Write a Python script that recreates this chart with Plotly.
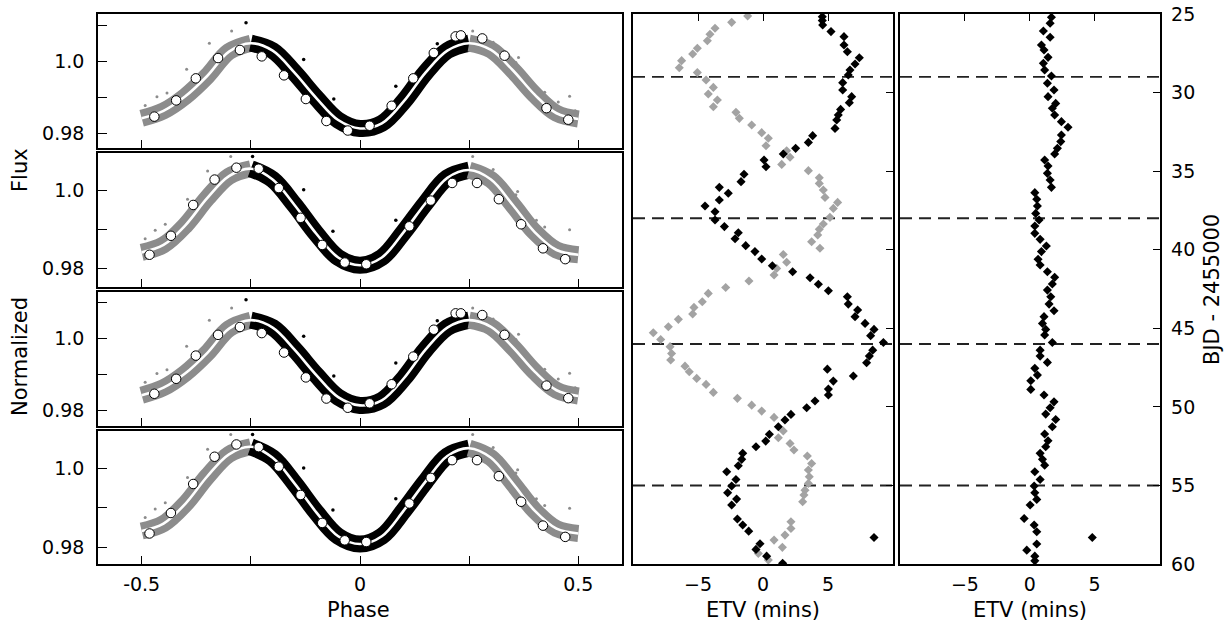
import plotly.graph_objects as go

# ---------------- light curves (phase-folded) ----------------
band_phase = [-0.5, -0.45, -0.4, -0.35, -0.3, -0.25, -0.2, -0.15, -0.1, -0.05, 0.0,
              0.05, 0.1, 0.15, 0.2, 0.25, 0.3, 0.35, 0.4, 0.45, 0.5]
model_p1 = [0.98422, 0.98628, 0.99031, 0.99593, 1.00270, 1.00502, 1.00296, 0.99687, 0.98984, 0.98375, 0.98141,
            0.98281, 0.98890, 0.99687, 1.00296, 1.00502, 1.00315, 0.99753, 0.99078, 0.98562, 0.98403]
model_p2 = [0.98409, 0.98600, 0.99104, 0.99800, 1.00365, 1.00557, 1.00278, 0.99626, 0.98887, 0.98278, 0.98078,
            0.98278, 0.98930, 0.99670, 1.00322, 1.00522, 1.00278, 0.99626, 0.98930, 0.98470, 0.98348]
model_p3 = [0.98420, 0.98630, 0.99030, 0.99590, 1.00265, 1.00500, 1.00295, 0.99685, 0.98980, 0.98370, 0.98140,
            0.98280, 0.98885, 0.99685, 1.00295, 1.00500, 1.00315, 0.99750, 0.99075, 0.98560, 0.98400]
model_p4 = [0.98409, 0.98600, 0.99104, 0.99800, 1.00365, 1.00557, 1.00278, 0.99626, 0.98887, 0.98278, 0.98078,
            0.98278, 0.98930, 0.99670, 1.00322, 1.00522, 1.00278, 0.99626, 0.98930, 0.98470, 0.98348]

bin_phase_a = [-0.471, -0.421, -0.376, -0.325, -0.275, -0.225, -0.174, -0.124, -0.077, -0.028,
               0.022, 0.0725, 0.122, 0.169, 0.219, 0.231, 0.280, 0.331, 0.427, 0.477]
bin_phase_b = [-0.482, -0.433, -0.382, -0.333, -0.283, -0.232, -0.186, -0.136, -0.0865, -0.035,
               0.0144, 0.113, 0.162, 0.211, 0.268, 0.318, 0.369, 0.419, 0.470]
bin_flux_p1 = [0.98469, 0.98918, 0.99528, 1.00090, 1.00315, 1.00137, 0.99612, 0.98956, 0.98347, 0.98084,
               0.98216, 0.98769, 0.99528, 1.00231, 1.00690, 1.00718, 1.00634, 1.00156, 0.98703, 0.98384]
bin_flux_p2 = [0.98348, 0.98835, 0.99626, 1.00278, 1.00583, 1.00557, 1.00061, 0.99296, 0.98600, 0.98148,
               0.98104, 0.99078, 0.99739, 1.00191, 1.00191, 0.99774, 0.99130, 0.98513, 0.98235]
bin_flux_p3 = [0.98462, 0.98877, 0.99519, 1.00094, 1.00311, 1.00142, 0.99604, 0.98915, 0.98330, 0.98075,
               0.98198, 0.98726, 0.99491, 1.00236, 1.00689, 1.00689, 1.00642, 1.00094, 0.98689, 0.98340]
bin_flux_p4 = [0.98348, 0.98870, 0.99609, 1.00304, 1.00617, 1.00548, 1.00052, 0.99330, 0.98617, 0.98174,
               0.98130, 0.99113, 0.99765, 1.00217, 1.00217, 0.99809, 0.99157, 0.98548, 0.98261]

out_black_phase_a = [-0.261, -0.129, -0.060, 0.082, 0.177]
out_black_flux_a = [1.01065, 1.00053, 0.98956, 0.99312, 1.00484]
out_gray_phase_a = [-0.492, -0.465, -0.442, -0.397, -0.345, -0.294, 0.258, 0.305, 0.363, 0.357, 0.423, 0.454, 0.480, 0.493]
out_gray_flux_a = [0.98778, 0.99022, 0.99125, 0.99781, 1.0050, 1.0084, 1.0084, 1.00531, 1.00109, 0.99968, 0.99143, 0.98872, 0.99031, 0.98628]
out_black_phase_b = [-0.246, -0.129, -0.062, 0.082]
out_black_flux_b = [1.0087, 1.00017, 0.98948, 0.99235]
out_gray_phase_b = [-0.492, -0.469, -0.446, -0.395, -0.349, -0.296, 0.258, 0.305, 0.361, 0.357, 0.404, 0.423, 0.480]
out_gray_flux_b = [0.98757, 0.98974, 0.99130, 0.99774, 1.00496, 1.0087, 1.0087, 1.00539, 0.99974, 0.99887, 0.99235, 0.99061, 0.98991]

flux_ranges = [[0.9760, 1.0131], [0.9752, 1.0096], [0.9757, 1.0128], [0.9757, 1.0096]]
flux_tickvals = [0.98, 0.99, 1.00, 1.01]
flux_ticktext = ["0.98", "", "1.0", ""]
phase_tickvals = [-0.5, -0.25, 0.0, 0.25, 0.5]
phase_ticktext = ["-0.5", "", "0", "", "0.5"]

# ---------------- eclipse timing variations ----------------
mid_black_bjd = [25.17, 25.42, 25.70, 26.12, 26.44, 26.97, 27.40, 27.78, 28.18, 28.56, 28.88, 29.37, 29.84, 30.26, 30.64,
                 31.07, 31.43, 31.75, 32.28, 32.74, 33.17, 33.55, 33.91, 34.29, 34.72, 35.20, 35.67, 36.03, 36.41, 36.84,
                 37.22, 37.58, 38.11, 38.53, 38.92, 39.30, 39.74, 40.12, 40.59, 41.02, 41.40, 41.78, 42.20, 42.61, 42.99,
                 43.46, 43.84, 44.26, 44.69, 45.07, 45.47, 45.90, 46.39, 46.77, 47.19, 47.60, 48.04, 48.36, 48.87, 49.25,
                 49.63, 50.06, 50.48, 50.84, 51.27, 51.75, 52.18, 52.54, 52.96, 53.34, 53.75, 54.13, 54.62, 55.04, 55.47,
                 55.87, 56.25, 57.14, 57.52, 57.91, 58.31, 58.71, 59.07, 59.50, 59.96]
mid_black_etv = [4.56, 4.56, 4.59, 5.23, 6.23, 6.23, 6.49, 7.41, 7.08, 6.69, 6.56, 6.13, 6.13, 6.82, 6.64,
                 5.97, 5.79, 5.67, 5.54, 3.82, 3.49, 2.51, 1.56, 0.08, 0.23, -1.46, -1.69, -3.36, -2.67, -3.36,
                 -4.46, -3.69, -3.69, -2.97, -1.90, -2.15, -1.33, -0.62, -0.10, 0.72, 2.28, 3.62, 4.26, 5.03, 6.49,
                 6.56, 7.28, 7.08, 7.85, 8.54, 8.28, 9.26, 8.44, 8.18, 7.97, 4.95, 6.95, 5.41, 5.03, 5.03,
                 4.00, 3.36, 2.15, 1.69, 1.18, 0.49, 0.21, -0.54, -1.56, -1.64, -1.90, -2.79, -2.08, -2.41, -2.72,
                 -2.03, -2.41, -1.97, -1.56, -1.10, 8.54, -0.23, -0.54, 0.28, 1.51]
mid_gray_bjd = [25.13, 25.53, 25.91, 26.29, 26.70, 27.18, 27.55, 27.97, 28.42, 28.73, 29.20, 29.67, 30.09, 30.47, 30.90,
                31.26, 31.64, 32.06, 32.55, 32.91, 33.38, 33.70, 34.12, 34.57, 34.97, 35.42, 35.78, 36.20, 36.67, 36.99,
                37.37, 37.94, 38.36, 38.70, 39.06, 39.49, 39.91, 40.30, 40.80, 41.19, 41.61, 41.99, 42.40, 42.78, 43.31,
                43.67, 44.09, 44.43, 44.90, 45.28, 45.71, 46.17, 46.60, 47.02, 47.41, 47.77, 48.19, 48.57, 49.08, 49.46,
                49.89, 50.27, 50.67, 51.54, 51.97, 52.33, 52.75, 53.13, 53.60, 54.02, 54.45, 54.87, 55.30, 55.61, 56.04,
                57.31, 57.74, 58.16, 58.48, 58.94, 59.33, 59.75]
mid_gray_etv = [-1.18, -2.41, -3.69, -4.08, -4.28, -5.05, -5.41, -6.26, -6.44, -5.05, -4.38, -3.82, -4.21, -3.51, -3.82,
                -2.08, -1.82, -0.87, -0.10, 0.41, 0.23, 1.82, 2.08, 1.44, 3.49, 4.33, 4.33, 4.64, 4.77, 5.74,
                5.41, 5.15, 4.64, 4.33, 4.21, 3.74, 4.38, 1.56, 1.82, 1.05, 0.85, -1.08, -2.87, -4.21, -4.67,
                -5.31, -5.41, -6.51, -7.28, -8.44, -7.87, -7.15, -7.03, -7.10, -6.00, -5.67, -5.10, -4.38, -3.82, -1.97,
                -0.87, -0.10, 0.85, 1.56, 1.18, 2.08, 2.38, 3.41, 3.74, 3.49, 3.56, 3.49, 3.23, 3.15, 3.05,
                2.15, 2.15, 1.69, 0.85, 1.49, -0.36, 0.41]
right_bjd = [25.21, 25.59, 26.08, 26.48, 26.97, 27.29, 27.76, 28.14, 28.56, 28.95, 29.41, 29.84, 30.26, 30.69, 31.00,
             31.43, 31.85, 32.21, 32.70, 33.12, 33.55, 33.91, 34.29, 34.67, 35.14, 35.56, 36.03, 36.37, 36.79, 37.22,
             37.69, 38.11, 38.49, 38.96, 39.34, 39.76, 40.12, 40.61, 40.97, 41.40, 41.76, 42.18, 42.57, 42.99, 43.46,
             43.88, 44.26, 44.69, 45.07, 45.43, 45.90, 46.39, 46.77, 47.17, 47.55, 47.98, 48.34, 48.89, 49.25, 49.68,
             50.06, 50.46, 50.80, 51.27, 51.73, 52.16, 52.54, 52.96, 53.34, 53.71, 54.13, 54.62, 55.04, 55.47, 55.89,
             56.25, 57.10, 57.52, 57.95, 58.31, 58.73, 59.12, 59.50, 59.80]
right_etv = [1.67, 1.57, 1.05, 1.57, 0.90, 1.10, 1.41, 1.05, 1.15, 1.67, 1.36, 1.87, 1.41, 2.00, 1.74,
             1.92, 2.44, 2.95, 2.44, 2.39, 2.13, 1.92, 1.15, 1.41, 1.36, 1.57, 1.67, 0.39, 0.54, 0.59,
             0.46, 0.72, 0.39, 0.39, 0.80, 1.28, 0.90, 0.64, 0.80, 1.36, 1.92, 1.74, 1.36, 1.62, 1.49,
             1.87, 1.10, 0.98, 1.23, 1.15, 1.74, 0.80, 0.80, 1.36, 0.39, 0.59, 0.08, 0.08, 1.10, 1.87,
             1.57, 1.23, 2.00, 1.74, 1.15, 1.41, 1.23, 0.80, 0.98, 1.15, 0.39, 0.80, 0.34, 0.39, 0.54,
             0.03, -0.43, 0.34, 0.54, 4.82, 0.54, -0.23, 0.39, 0.39]
segment_bjd = [29.0, 38.0, 46.0, 55.0]
etv_range = [-10, 10]
etv_tickvals = [-5, 0, 5]
etv_ticktext = ["\u22125", "0", "5"]
bjd_range = [60, 25]
bjd_tickvals = [25, 30, 35, 40, 45, 50, 55, 60]

assert len(mid_black_bjd) == len(mid_black_etv)
assert len(mid_gray_bjd) == len(mid_gray_etv)
assert len(right_bjd) == len(right_etv)

# ---------------- styling / layout ----------------
W, H = 1229, 623
FONT = "DejaVu Sans"
TICK_SIZE = 19
LABEL_SIZE = 21
GRAY_BAND = "#8c8c8c"
GRAY_ETV = "#a3a3a3"
BAND_W = 17


def px_to_paper_y(px):
    return 1 - px / H


left_x_dom = [98 / W, 622 / W]
panel_px = [(14, 148), (153, 287), (292, 426), (431, 564)]
mid_x_dom = [633 / W, 893 / W]
right_x_dom = [900 / W, 1159.5 / W]
etv_y_dom = [px_to_paper_y(564), px_to_paper_y(14)]

models = [model_p1, model_p2, model_p3, model_p4]
bin_phases = [bin_phase_a, bin_phase_b, bin_phase_a, bin_phase_b]
bin_fluxes = [bin_flux_p1, bin_flux_p2, bin_flux_p3, bin_flux_p4]
outs = [(out_black_phase_a, out_black_flux_a, out_gray_phase_a, out_gray_flux_a),
        (out_black_phase_b, out_black_flux_b, out_gray_phase_b, out_gray_flux_b),
        (out_black_phase_a, out_black_flux_a, out_gray_phase_a, out_gray_flux_a),
        (out_black_phase_b, out_black_flux_b, out_gray_phase_b, out_gray_flux_b)]

fig = go.Figure()
layout = dict(
    width=W, height=H, margin=dict(l=0, r=0, t=0, b=0),
    paper_bgcolor="white", plot_bgcolor="white", showlegend=False,
    font=dict(family=FONT, size=TICK_SIZE, color="black"),
)

common_axis = dict(showgrid=False, zeroline=False, showline=True, linecolor="black",
                   linewidth=1.6, mirror=True, tickcolor="black", tickwidth=1.2, automargin=False)

i_lo = band_phase.index(-0.25)
i_hi = band_phase.index(0.25)

for k in range(4):
    n = k + 1
    xa, ya = f"x{n}", f"y{n}"
    m = models[k]
    segs = [(band_phase[:i_lo + 1], m[:i_lo + 1], GRAY_BAND),
            (band_phase[i_lo:i_hi + 1], m[i_lo:i_hi + 1], "black"),
            (band_phase[i_hi:], m[i_hi:], GRAY_BAND)]
    for xs, ys, col in segs:
        fig.add_trace(go.Scatter(x=xs, y=ys, mode="lines", xaxis=xa, yaxis=ya, hoverinfo="skip",
                                 line=dict(color=col, width=BAND_W, shape="spline", smoothing=1.0)))
    bp, bf, gp, gf = outs[k]
    fig.add_trace(go.Scatter(x=gp, y=gf, mode="markers", xaxis=xa, yaxis=ya,
                             marker=dict(color=GRAY_BAND, size=3, line=dict(width=0))))
    fig.add_trace(go.Scatter(x=bp, y=bf, mode="markers", xaxis=xa, yaxis=ya,
                             marker=dict(color="black", size=3.5, line=dict(width=0))))
    fig.add_trace(go.Scatter(x=band_phase, y=m, mode="lines", xaxis=xa, yaxis=ya,
                             line=dict(color="white", width=2.6, shape="spline", smoothing=1.0)))
    fig.add_trace(go.Scatter(x=bin_phases[k], y=bin_fluxes[k], mode="markers", xaxis=xa, yaxis=ya,
                             marker=dict(symbol="circle", size=9.5, color="white",
                                         line=dict(color="black", width=1))))
    top, bot = panel_px[k]
    layout[f"xaxis{n}"] = dict(common_axis, domain=left_x_dom, range=[-0.6, 0.6], anchor=ya,
                               ticks="inside", ticklen=8, tickvals=phase_tickvals, ticktext=phase_ticktext,
                               showticklabels=(n == 4), ticklabelstandoff=2)
    layout[f"yaxis{n}"] = dict(common_axis, domain=[px_to_paper_y(bot), px_to_paper_y(top)],
                               range=flux_ranges[k], anchor=xa, ticks="inside", ticklen=9,
                               tickvals=flux_tickvals, ticktext=flux_ticktext, ticklabelstandoff=8)

# ETV panels
for n, xdom, show_y in [(5, mid_x_dom, False), (6, right_x_dom, True)]:
    xa, ya = f"x{n}", f"y{n}"
    for b in segment_bjd:
        fig.add_trace(go.Scatter(x=etv_range, y=[b, b], mode="lines", xaxis=xa, yaxis=ya, hoverinfo="skip",
                                 line=dict(color="#222222", width=1.9, dash="12px,7px")))
    layout[f"xaxis{n}"] = dict(common_axis, domain=xdom, range=etv_range, anchor=ya, ticks="",
                               tickvals=etv_tickvals, ticktext=etv_ticktext, ticklabelstandoff=2)
    layout[f"yaxis{n}"] = dict(common_axis, domain=etv_y_dom, range=bjd_range, anchor=xa, side="right",
                               ticks="inside", ticklen=7, tickvals=bjd_tickvals,
                               showticklabels=show_y, ticklabelstandoff=6)
    top_n = n + 2
    layout[f"xaxis{top_n}"] = dict(overlaying=xa, side="top", anchor=ya, range=etv_range, ticks="inside",
                                   ticklen=7, tickcolor="black", tickwidth=1.2, tickvals=etv_tickvals,
                                   showticklabels=False, showgrid=False, zeroline=False, showline=False,
                                   automargin=False)
    fig.add_trace(go.Scatter(x=[None], y=[None], mode="markers", xaxis=f"x{top_n}", yaxis=ya))

fig.add_trace(go.Scatter(x=mid_gray_etv, y=mid_gray_bjd, mode="markers", xaxis="x5", yaxis="y5",
                         marker=dict(symbol="diamond", size=7, color=GRAY_ETV, line=dict(width=0))))
fig.add_trace(go.Scatter(x=mid_black_etv, y=mid_black_bjd, mode="markers", xaxis="x5", yaxis="y5",
                         marker=dict(symbol="diamond", size=7, color="black", line=dict(width=0))))
fig.add_trace(go.Scatter(x=right_etv, y=right_bjd, mode="markers", xaxis="x6", yaxis="y6",
                         marker=dict(symbol="diamond", size=7, color="black", line=dict(width=0))))

lab = dict(xref="paper", yref="paper", showarrow=False, borderpad=0,
           font=dict(family=FONT, size=LABEL_SIZE, color="black"))
label_y = 0.0
layout["annotations"] = [
    dict(lab, text="Phase", x=358 / W, y=label_y, xanchor="center", yanchor="bottom"),
    dict(lab, text="ETV (mins)", x=763 / W, y=label_y, xanchor="center", yanchor="bottom"),
    dict(lab, text="ETV (mins)", x=1030 / W, y=label_y, xanchor="center", yanchor="bottom"),
    dict(lab, text="Normalized", x=20 / W, y=px_to_paper_y(357), textangle=-90, xanchor="center", yanchor="middle"),
    dict(lab, text="Flux", x=20 / W, y=px_to_paper_y(170), textangle=-90, xanchor="center", yanchor="middle"),
    dict(lab, text="BJD - 2455000", x=1212 / W, y=px_to_paper_y(290), textangle=-90, xanchor="center", yanchor="middle"),
]

fig.update_layout(**layout)
fig.write_html("out.html")
